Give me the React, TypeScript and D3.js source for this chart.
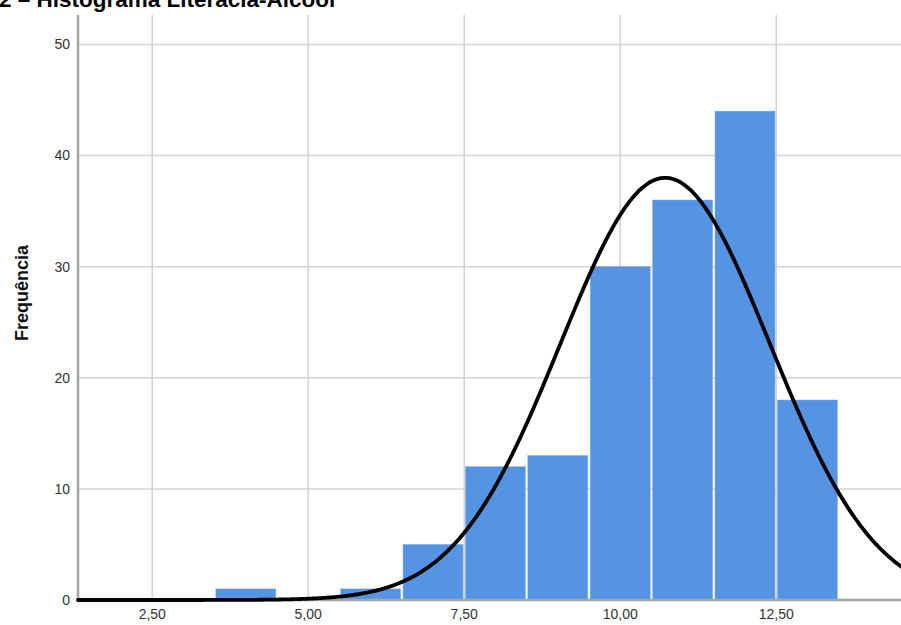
import React from "react";
import * as d3 from "d3";

const binStarts = [3.5, 4.5, 5.5, 6.5, 7.5, 8.5, 9.5, 10.5, 11.5, 12.5];
const binWidth = 1;
const counts = [1, 0, 1, 5, 12, 13, 30, 36, 44, 18];
const xTicks = [2.5, 5, 7.5, 10, 12.5];
const yTicks = [0, 10, 20, 30, 40, 50];
const curveMean = 10.72;
const curveSd = 1.68;
const title = "2 – Histograma Literacia-Alcool";
const yLabel = "Frequência";

const W = 901;
const H = 625;

export default function App() {
  const x = d3.scaleLinear().domain([1.31, 14.5]).range([78, 901]);
  const y = d3.scaleLinear().domain([0, 52.65]).range([600, 15]);
  const total = d3.sum(counts);
  const fmt = (v: number) => v.toFixed(2).replace(".", ",");
  const pts: [number, number][] = d3.range(1.31, 14.55, 0.02).map((v) => [
    v,
    (total * binWidth) / (curveSd * Math.sqrt(2 * Math.PI)) *
      Math.exp(-0.5 * ((v - curveMean) / curveSd) ** 2),
  ]);
  const line = d3
    .line<[number, number]>()
    .x((d) => x(d[0]))
    .y((d) => y(d[1]))
    .curve(d3.curveBasis);
  const font = "Arial, 'Liberation Sans', sans-serif";
  return (
    <svg
      width={W}
      height={H}
      style={{ position: "absolute", left: 0, top: 0, background: "#fff" }}
      fontFamily={font}
    >
      <rect x={0} y={0} width={W} height={H} fill="#fff" />
      {xTicks.map((t) => (
        <line key={"gx" + t} x1={x(t)} x2={x(t)} y1={15} y2={600} stroke="#d3d3d3" strokeWidth={1.5} />
      ))}
      {yTicks.map((t) => (
        <line key={"gy" + t} x1={78} x2={901} y1={y(t)} y2={y(t)} stroke="#d3d3d3" strokeWidth={1.5} />
      ))}
      {counts.map((c, i) =>
        c > 0 ? (
          <rect
            key={i}
            x={x(binStarts[i]) + 1.2}
            width={x(binStarts[i] + binWidth) - x(binStarts[i]) - 2.4}
            y={y(c)}
            height={y(0) - y(c)}
            fill="#5494e2"
            stroke="#7fb0ea"
            strokeWidth={0.5}
          />
        ) : null
      )}
      <line x1={78} x2={901} y1={600} y2={600} stroke="#a6a6a6" strokeWidth={2.5} />
      <line x1={78} x2={78} y1={15} y2={601} stroke="#a6a6a6" strokeWidth={2.5} />
      <path d={line(pts) || ""} fill="none" stroke="#000" strokeWidth={3.8} strokeLinecap="round" />
      {yTicks.map((t) => (
        <text key={"ty" + t} x={70} y={y(t)} dy="0.35em" textAnchor="end" fontSize={14} fill="#333">
          {t}
        </text>
      ))}
      {xTicks.map((t) => (
        <text key={"tx" + t} x={x(t)} y={614} dy="0.35em" textAnchor="middle" fontSize={14} fill="#333">
          {fmt(t)}
        </text>
      ))}
      <text
        transform={`translate(28,${293}) rotate(-90)`}
        textAnchor="middle"
        fontSize={18}
        fontWeight="bold"
        fill="#111"
      >
        {yLabel}
      </text>
      <text x={-1} y={7} fontSize={22.5} fontWeight="bold" fill="#000">
        {title}
      </text>
    </svg>
  );
}
